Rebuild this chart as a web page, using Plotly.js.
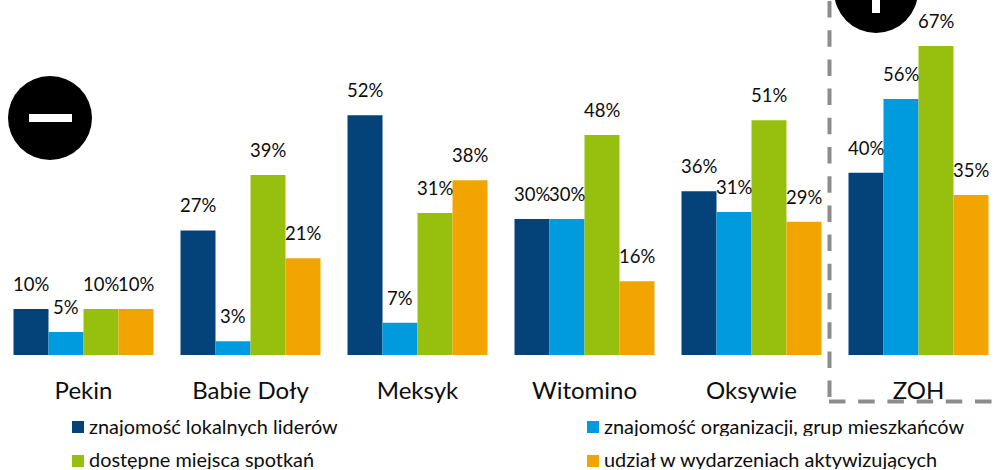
<!DOCTYPE html>
<html><head><meta charset="utf-8">
<script src="https://cdn.plot.ly/plotly-3.0.1.min.js"></script>
<style>html,body{margin:0;padding:0;background:#fff;overflow:hidden}</style>
</head><body><div id="chart" style="width:1003px;height:470px"></div>
<script>
const categories = ["Pekin","Babie Doły","Meksyk","Witomino","Oksywie","ZOH"];
const liderzy = [10,27,52,29.5,35.5,39.5];
const organizacje = [5,3,7,29.5,31,55.5];
const miejsca = [10,39,30.8,47.7,50.9,67];
const wydarzenia = [10,21,37.9,16,28.9,34.7];
const seriesNames = ["znajomość lokalnych liderów","znajomość organizacji, grup mieszkańców","dostępne miejsca spotkań","udział w wydarzeniach aktywizujących"];
const seriesValues = [liderzy,organizacje,miejsca,wydarzenia];
const seriesColors = ["#03437A","#009BDE","#97BF0D","#F2A500"];

const W=1002, H=355, FONT="Lato, Carlito, sans-serif";
const px = x => x/W, py = y => (H-y)/H;
const gap = 27/167, barW = (1-gap)/4;

const traces = seriesValues.map((v,i)=>({type:"bar",x:categories,y:v,name:seriesNames[i],
  marker:{color:seriesColors[i],line:{width:0}},hoverinfo:"x+y+name"}));

const annotations=[];
seriesValues.forEach((v,i)=>v.forEach((val,c)=>annotations.push({
  x:c+(i-1.5)*barW,y:val,xref:"x",yref:"y",text:Math.round(val)+"%",showarrow:false,
  yanchor:"middle",xanchor:"center",yshift:25,font:{family:FONT,size:18.5,color:"#0d0d0d"}})));

const legendPos=[[72,426],[587,426],[72,458.5],[587,458.5]];
const shapes=[];
legendPos.forEach((p,i)=>{
  const sy = i<2 ? 427 : 461;
  shapes.push({type:"rect",xref:"paper",yref:"paper",x0:px(p[0]),x1:px(p[0]+12),y0:py(sy-6),y1:py(sy+6),fillcolor:seriesColors[i],line:{width:0}});
  annotations.push({xref:"paper",yref:"paper",x:px(p[0]+16),y:py(p[1]),xanchor:"left",yanchor:"middle",showarrow:false,height:20,borderpad:0,text:seriesNames[i],font:{family:FONT,size:19.9,color:"#0d0d0d"}});
});
const circle=(cx,cy,r)=>({type:"circle",xref:"paper",yref:"paper",x0:px(cx-r),x1:px(cx+r),y0:py(cy-r),y1:py(cy+r),fillcolor:"#000",line:{width:0}});
const rect=(a,b,c,d)=>({type:"rect",xref:"paper",yref:"paper",x0:px(a),x1:px(c),y0:py(b),y1:py(d),fillcolor:"#fff",line:{width:0}});
shapes.push(circle(50,118,42),rect(29,114,72,122));
shapes.push(circle(876,-9,42),rect(872,-20,880,13));
const dashStyle={color:"#8C8C8C",width:4,dash:"16.5px,12.7px"};
shapes.push({type:"path",xref:"paper",yref:"paper",
  path:`M ${px(829.5)} ${py(1)} L ${px(829.5)} ${py(399.5)}`,line:dashStyle});
shapes.push({type:"path",xref:"paper",yref:"paper",
  path:`M ${px(829)} ${py(401.5)} L ${px(1003)} ${py(401.5)}`,line:dashStyle});

Plotly.newPlot("chart",traces,{
  width:1003,height:470,margin:{l:0,r:1,t:0,b:115,pad:0},
  paper_bgcolor:"#fff",plot_bgcolor:"#fff",showlegend:false,
  barmode:"group",bargap:gap,bargroupgap:0,
  xaxis:{type:"category",showline:false,showgrid:false,zeroline:false,ticks:"",ticklabelstandoff:19,
    tickfont:{family:FONT,size:24,color:"#0d0d0d"}},
  yaxis:{range:[0,76.97],visible:false,showgrid:false,zeroline:false},
  annotations,shapes
},{displayModeBar:false,staticPlot:true});
</script></body></html>
